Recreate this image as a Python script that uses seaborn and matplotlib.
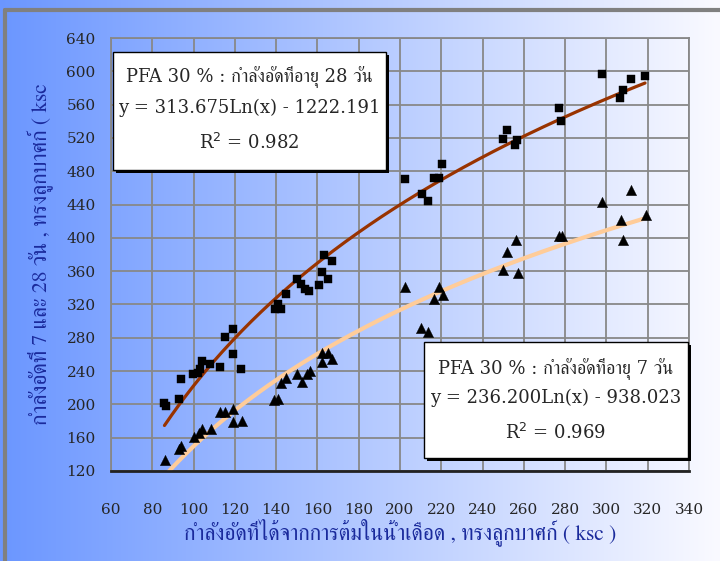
import numpy as np
import pandas as pd
import matplotlib
matplotlib.use("Agg")
import matplotlib.pyplot as plt
import seaborn as sns
from matplotlib.patches import Rectangle

# boiling-water strength (x) vs 28-day strength
x28 = [85.9, 86.7, 92.7, 93.7, 99.5, 102, 103, 104, 108, 112.7, 115, 119, 119, 123,
       139.5, 142.4, 141, 145, 150, 152, 154, 156, 161, 162.4, 165, 167, 163.4,
       202.4, 220.5, 216.6, 219, 210.7, 213.7,
       297.9, 312, 318.7, 308, 306.6, 277, 278, 251.7, 250, 256.6, 255.6]
y28 = [202, 198, 207, 231, 236, 238, 243, 252, 249, 245, 281, 290, 261, 243,
       314, 314, 321, 333, 351, 344, 339, 336, 343, 359, 350, 372, 379,
       470.6, 488.7, 472, 472, 452.6, 444,
       597, 591, 594, 578, 568, 556, 540, 529, 519, 518, 511]

# boiling-water strength (x) vs 7-day strength
x7 = [86.3, 93.7, 93, 100, 102.4, 104, 108.3, 113, 115, 119, 119, 123.4, 139, 141,
      142.4, 145, 150, 152.7, 155, 156.6, 162.4, 162.4, 165, 167,
      202.4, 219, 216.6, 221, 210, 213.7,
      297.9, 312, 319, 307, 308, 277, 278.4, 256, 251.7, 250, 257]
y7 = [133, 150, 147, 161, 166, 171, 171, 191, 191, 195, 179, 180, 205.6, 207,
      226, 232, 237, 227, 237, 240.5, 262, 251, 262, 255,
      340.5, 340.5, 327, 331, 292, 287.5,
      443, 457, 428, 422, 397, 402, 402, 398, 383, 361, 358]

# log trend lines shown in the boxes
a28, b28 = 313.675, -1222.191
a7, b7 = 236.200, -938.023

df28 = pd.DataFrame({"x": x28, "y": y28})
df7 = pd.DataFrame({"x": x7, "y": y7})

sns.set_style("white")
serif = ["DejaVu Serif", "FreeSerif"]
thai = ["FreeSerif", "DejaVu Serif"]

fig = plt.figure(figsize=(7.2, 5.61), dpi=100)

# horizontal blue -> white gradient background
bg = fig.add_axes([0, 0, 1, 1], zorder=-10)
grad = np.linspace(0, 1, 256)
c0 = np.array([0.42, 0.59, 1.0])
c1 = np.array([0.98, 0.98, 1.0])
img = c0[None, :] * (1 - grad[:, None]) + c1[None, :] * grad[:, None]
bg.imshow(img[None, :, :], aspect="auto", extent=[0, 1, 0, 1])
bg.set_axis_off()
# grey frame (top and left edges)
fig.add_artist(plt.Line2D([5/720, 5/720], [0, 1 - 10/561], color="#808080", lw=3, transform=fig.transFigure))
fig.add_artist(plt.Line2D([5/720, 1], [1 - 10/561, 1 - 10/561], color="#808080", lw=3, transform=fig.transFigure))

ax = fig.add_axes([111/720, 1 - 471/561, (689 - 111)/720, (471 - 38)/561])
ax.patch.set_alpha(0)

sns.scatterplot(data=df28, x="x", y="y", marker="s", color="black", s=40, edgecolor="black", linewidth=0.3, ax=ax, zorder=3)
sns.scatterplot(data=df7, x="x", y="y", marker="^", color="black", s=55, edgecolor="black", linewidth=0.3, ax=ax, zorder=3)

xs28 = np.linspace(min(x28), max(x28), 200)
xs7 = np.linspace(min(x7), max(x7), 200)
sns.lineplot(x=xs28, y=a28 * np.log(xs28) + b28, color="#993300", lw=2.3, ax=ax, zorder=2)
sns.lineplot(x=xs7, y=a7 * np.log(xs7) + b7, color="#FFCC99", lw=3, ax=ax, zorder=2)

ax.set_xlim(60, 340)
ax.set_ylim(120, 640)
ax.set_xticks(np.arange(60, 341, 20))
ax.set_yticks(np.arange(120, 641, 40))
ax.grid(True, color="#888888", lw=1.3)
ax.set_axisbelow(True)
for s in ["top", "right", "left"]:
    ax.spines[s].set_color("#888888")
    ax.spines[s].set_linewidth(1.3)
ax.spines["bottom"].set_color("#222222")
ax.spines["bottom"].set_linewidth(2)
ax.tick_params(axis="x", direction="out", length=5, width=1.3, color="#222222", pad=18)
ax.tick_params(axis="y", direction="out", length=5, width=1.3, color="#888888", pad=6)
for lab in ax.get_xticklabels() + ax.get_yticklabels():
    lab.set_family(serif)
    lab.set_fontsize(11)

ax.set_xlabel("กำลังอัดที่ได้จากการต้มในน้ำเดือด , ทรงลูกบาศก์ ( ksc )", family=thai,
              fontsize=15.5, color="#1a2a9c", labelpad=1)
ax.set_ylabel("กำลังอัดที่ 7 และ 28 วัน , ทรงลูกบาศก์ ( ksc", family=thai,
              fontsize=15.5, color="#1a2a9c", labelpad=10)


def text_box(x0, y0, x1, y1, lines):
    # box corners in pixels from top-left of the figure
    W, H = 720, 561
    fig.add_artist(Rectangle((x0/W + 3/W, 1 - y1/H - 3/H), (x1 - x0)/W, (y1 - y0)/H,
                             transform=fig.transFigure, facecolor="black", edgecolor="none", zorder=5))
    fig.add_artist(Rectangle((x0/W, 1 - y1/H), (x1 - x0)/W, (y1 - y0)/H,
                             transform=fig.transFigure, facecolor="white", edgecolor="black", lw=1, zorder=6))
    for ty, t, fs in lines:
        fig.text((x0 + x1) / 2 / W, 1 - ty / H, t, ha="center", va="center", family=serif,
                 fontsize=fs, zorder=7)


text_box(113, 52, 386, 170, [(77, "PFA 30 % : กำลังอัดที่อายุ 28 วัน", 13),
                            (108, "y = 313.675Ln(x) - 1222.191", 13),
                            (143, "R$^2$ = 0.982", 13)])
text_box(424, 342, 688, 458, [(369, "PFA 30 % : กำลังอัดที่อายุ 7 วัน", 13),
                             (398, "y = 236.200Ln(x) - 938.023", 13),
                             (433, "R$^2$ = 0.969", 13)])

fig.savefig("out.png", dpi=100)
